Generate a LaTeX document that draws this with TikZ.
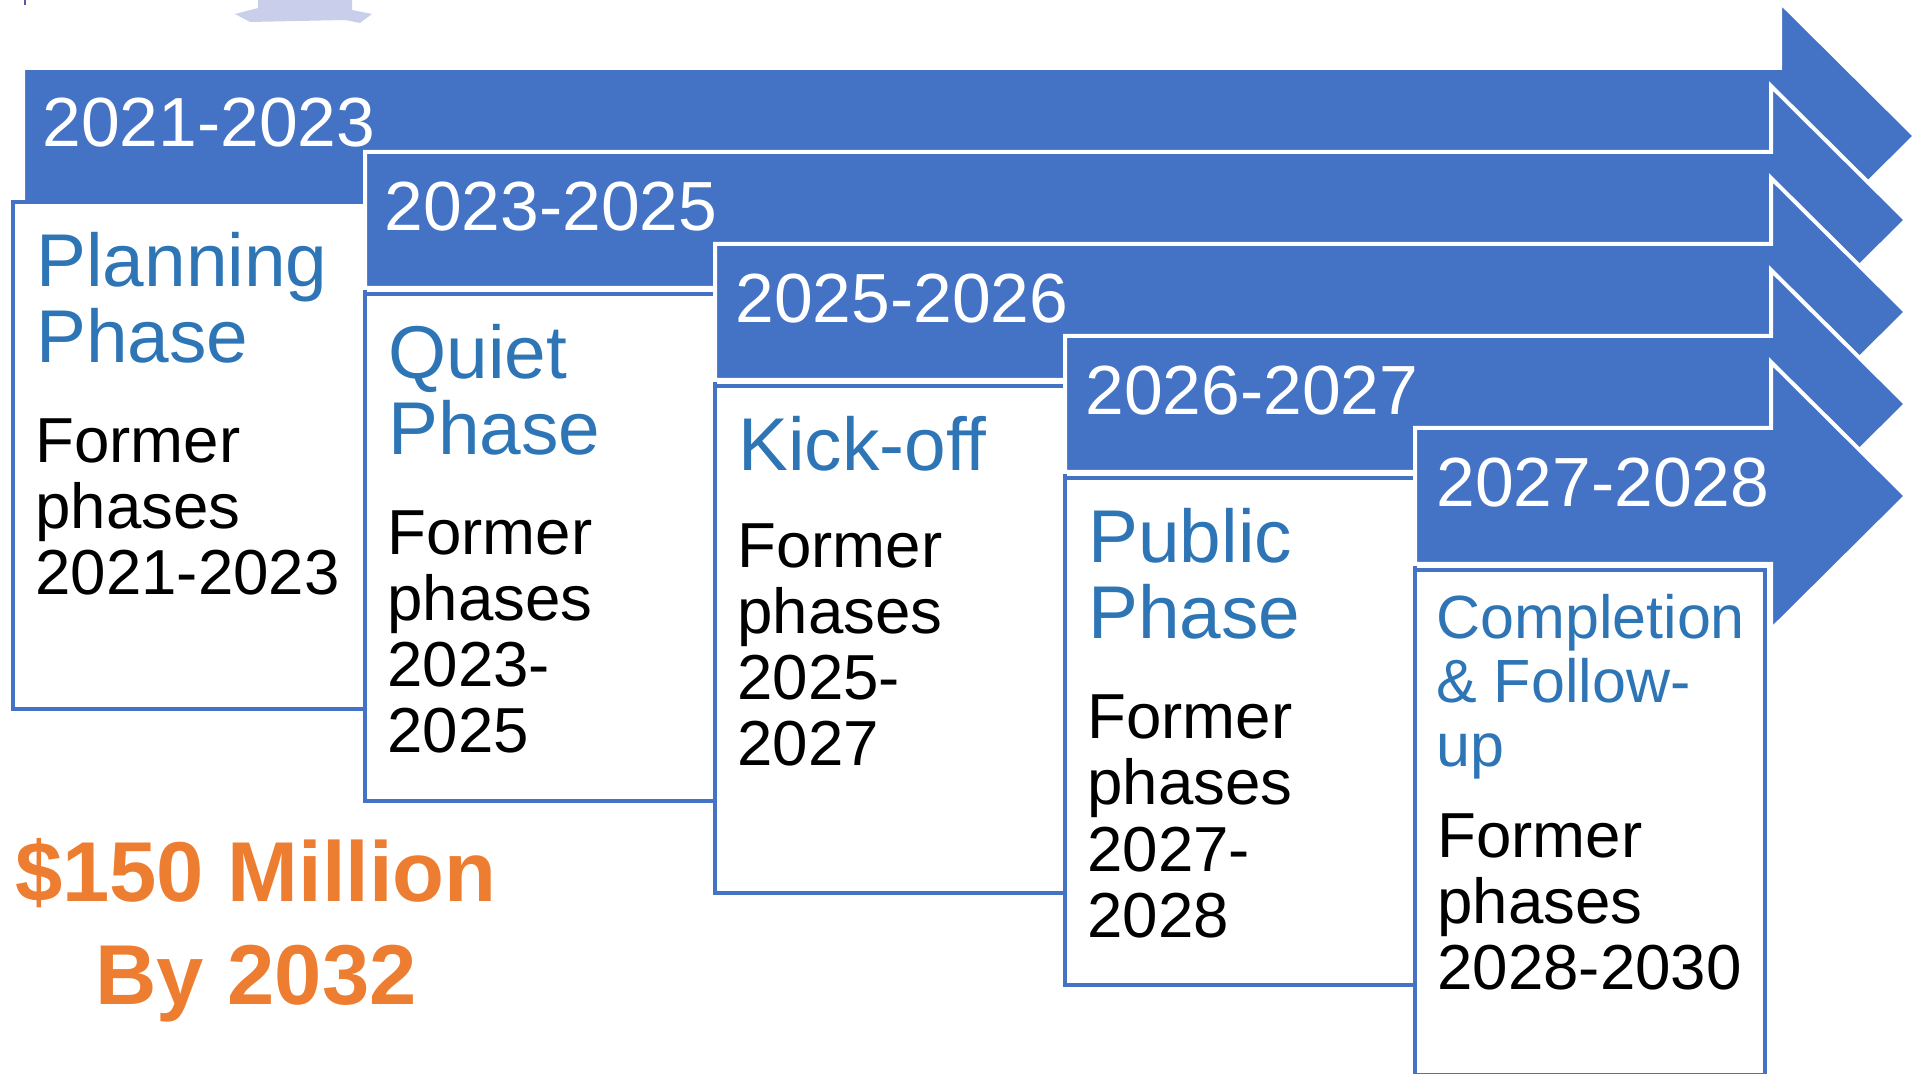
\documentclass[tikz,border=0pt]{standalone}
\usepackage{fontspec}
\setmainfont{Liberation Sans}
\definecolor{arrowblue}{HTML}{4472C4}
\definecolor{titleblue}{HTML}{2E75B6}
\definecolor{goalorange}{HTML}{ED7D31}
\definecolor{faintimg}{HTML}{C9CFEB}
\tikzset{
  arrowshape/.style={fill=arrowblue, draw=white, line width=2pt, line join=miter},
  phasebox/.style={fill=white, draw=arrowblue, line width=2pt},
  yearlabel/.style={inner sep=0pt, anchor=base west, text=white, font=\fontsize{34.8pt}{36pt}\selectfont},
  titlelabel/.style={inner sep=0pt, anchor=base west, text=titleblue, font=\fontsize{37.4pt}{39pt}\selectfont},
  smalltitle/.style={inner sep=0pt, anchor=base west, text=titleblue, font=\fontsize{30.5pt}{32pt}\selectfont},
  bodylabel/.style={inner sep=0pt, anchor=base west, text=black, font=\fontsize{31.8pt}{33pt}\selectfont},
  goallabel/.style={inner sep=0pt, anchor=base, text=goalorange, font=\bfseries\fontsize{42.5pt}{44pt}\selectfont},
}
\newcommand{\phasearrow}[4]{% x0, xb, xt, c
  \path[arrowshape] (#1,#4-68) -- (#2,#4-68) -- (#2,#4-134) -- (#3,#4) -- (#2,#4+134) -- (#2,#4+68) -- (#1,#4+68) -- cycle;}
\begin{document}
\begin{tikzpicture}[x=0.5pt,y=-0.5pt]
\useasboundingbox (0,0) rectangle (1929,1074);
% faint image fragment at top
\fill[faintimg] (258,0) -- (352,0) -- (352,10) -- (372,14) -- (360,23) -- (345,20) -- (250,22) -- (235,14) -- (258,8) -- cycle;
\draw[gray!70!blue, line width=1pt] (25,0) -- (25,5);

% arrow 1 + box 1
\phasearrow{23}{1780}{1915}{136}
\node[yearlabel] (y1) at (42,147) {2021-2023};
\path[phasebox] (13,202) rectangle (365,709);
\node[titlelabel] (t1a) at (36,287) {Planning};
\node[titlelabel] (t1b) at (36,363) {Phase};
\node[bodylabel] (b1a) at (35,463) {Former};
\node[bodylabel] (b1b) at (35,529) {phases};
\node[bodylabel] (b1c) at (35,595) {2021-2023};

% arrow 2 + box 2
\phasearrow{365}{1771}{1906}{220}
\node[yearlabel] (y2) at (384,231) {2023-2025};
\path[phasebox] (365,294) rectangle (715,801);
\node[titlelabel] (t2a) at (388,379) {Quiet};
\node[titlelabel] (t2b) at (388,455) {Phase};
\node[bodylabel] (b2a) at (387,555) {Former};
\node[bodylabel] (b2b) at (387,621) {phases};
\node[bodylabel] (b2c) at (387,687) {2023-};
\node[bodylabel] (b2d) at (387,753) {2025};

% arrow 3 + box 3
\phasearrow{715}{1771}{1906}{312}
\node[yearlabel] (y3) at (735,323) {2025-2026};
\path[phasebox] (715,386) rectangle (1065,893);
\node[titlelabel] (t3a) at (738,471) {Kick-off};
\node[bodylabel] (b3a) at (737,568) {Former};
\node[bodylabel] (b3b) at (737,634) {phases};
\node[bodylabel] (b3c) at (737,700) {2025-};
\node[bodylabel] (b3d) at (737,766) {2027};

% arrow 4 + box 4
\phasearrow{1065}{1771}{1906}{404}
\node[yearlabel] (y4) at (1085,415) {2026-2027};
\path[phasebox] (1065,478) rectangle (1415,985);
\node[titlelabel] (t4a) at (1088,563) {Public};
\node[titlelabel] (t4b) at (1088,639) {Phase};
\node[bodylabel] (b4a) at (1087,739) {Former};
\node[bodylabel] (b4b) at (1087,805) {phases};
\node[bodylabel] (b4c) at (1087,871) {2027-};
\node[bodylabel] (b4d) at (1087,937) {2028};

% arrow 5 + box 5
\phasearrow{1415}{1771}{1906}{496}
\node[yearlabel] (y5) at (1436,507) {2027-2028};
\path[phasebox] (1415,570) rectangle (1765,1075);
\node[smalltitle] (t5a) at (1436,639) {Completion};
\node[smalltitle] (t5b) at (1436,703) {\& Follow-};
\node[smalltitle] (t5c) at (1436,767) {up};
\node[bodylabel] (b5a) at (1437,857) {Former};
\node[bodylabel] (b5b) at (1437,923) {phases};
\node[bodylabel] (b5c) at (1437,989) {2028-2030};

% goal text
\node[goallabel] (g1) at (256,901) {\$150 Million};
\node[goallabel] (g2) at (256,1004) {By 2032};
\end{tikzpicture}
\end{document}
